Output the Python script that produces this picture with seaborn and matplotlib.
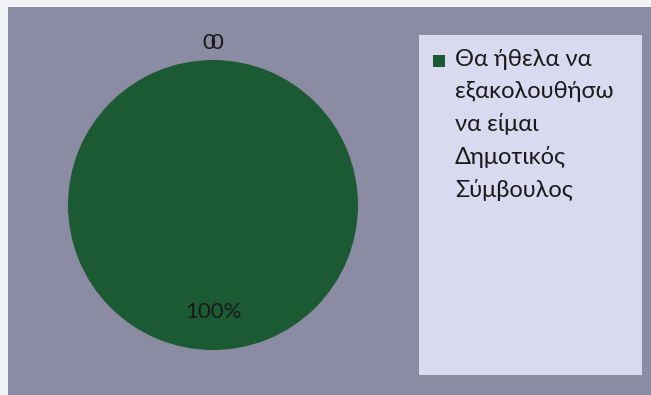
import matplotlib
matplotlib.use("Agg")
import matplotlib.pyplot as plt
import matplotlib.transforms as mtransforms
from matplotlib.patches import Rectangle
import seaborn as sns

# δεδομένα της πίτας
categories = ["Θα ήθελα να\nεξακολουθήσω\nνα είμαι\nΔημοτικός\nΣύμβουλος", "", ""]
values = [100, 0, 0]
value_labels = ["", "0", "0"]
colors = ["#1b5a33", "#8b8ba3", "#8b8ba3"]

sns.set_theme(style="white")
plt.rcParams["font.family"] = ["Lato", "DejaVu Sans"]

W, H = 651, 395
fig = plt.figure(figsize=(W / 100, H / 100), dpi=100)
fig.patch.set_facecolor("#f3f4f7")

# γκρι φόντο και πλαίσιο υπομνήματος
fig.patches.append(Rectangle((8 / W, 0), 1, 1 - 7 / H, transform=fig.transFigure,
                             facecolor="#8b8ba3", edgecolor="none", zorder=-3))
fig.patches.append(Rectangle((419 / W, 1 - 375 / H), 223 / W, 340 / H, transform=fig.transFigure,
                             facecolor="#d9daf0", edgecolor="none", zorder=-2))

cx, cy, r = 213, 205, 145
ax = fig.add_axes([(cx - r) / W, 1 - (cy + r) / H, 2 * r / W, 2 * r / H])
ax.set_facecolor("none")

wedges, texts, autotexts = ax.pie(
    values, labels=value_labels, colors=colors, startangle=90, counterclock=False,
    autopct=lambda p: f"{p:.0f}%" if p > 0 else "", pctdistance=0.74, labeldistance=1.12,
    textprops={"fontsize": 16, "color": "#1a1a1a"}, radius=1,
    wedgeprops={"linewidth": 0, "edgecolor": "none"},
)
ax.set_xlim(-1, 1)
ax.set_ylim(-1, 1)
ax.axis("off")

for t, dx in zip(texts[1:], [-4, 4]):
    t.set_ha("center")
    t.set_va("center")
    t.set_transform(mtransforms.offset_copy(t.get_transform(), fig=fig, x=dx, y=0, units="dots"))

# υπόμνημα: μόνο η πρώτη κατηγορία
fig.patches.append(Rectangle((433 / W, 1 - 67 / H), 12 / W, 12 / H, transform=fig.transFigure,
                             facecolor=colors[0], edgecolor="none", zorder=2))
fig.text(455 / W, 1 - 49 / H, categories[0], ha="left", va="top", fontsize=17,
         linespacing=1.62, color="#1a1a1a")

plt.savefig("out.png", dpi=100)
plt.close()
